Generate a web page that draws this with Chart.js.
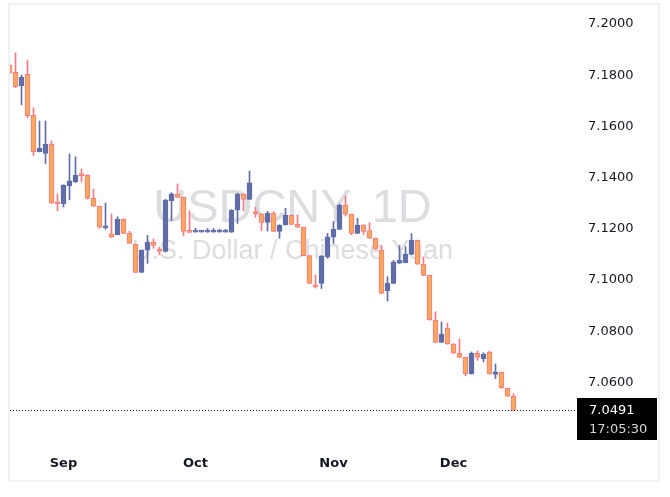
<!DOCTYPE html>
<html><head><meta charset="utf-8">
<script src="https://cdn.jsdelivr.net/npm/chart.js@4.4.1/dist/chart.umd.min.js"></script>
<style>
html,body{margin:0;padding:0;background:#fff;}
#wrap{position:absolute;left:0;top:0;width:670px;height:497px;}
#frame{position:absolute;left:8px;top:3px;width:652px;height:479px;border:2px solid #f0f1f3;box-sizing:border-box;}
canvas{position:absolute;left:0;top:0;}
</style></head><body>
<div id="wrap"><div id="frame"></div><canvas id="c" width="670" height="497"></canvas></div>
<script>
// Daily USDCNY candles, 2025-08-19 .. 2025-12-15 (trading days)
const opens = [7.1840,7.1811,7.1759,7.1803,7.1643,7.1501,7.1494,7.1531,7.1301,
  7.1298,7.1368,7.1384,7.1410,7.1410,7.1319,7.1288,7.1204,7.1180,7.1177,7.1238,7.1182,7.1139,7.1030,7.1117,7.1148,7.1121,7.1112,7.1310,7.1336,7.1323,7.1191,
  7.1187,7.1187,7.1187,7.1187,7.1187,7.1187,7.1187,7.1273,7.1336,7.1315,7.1262,7.1258,7.1225,7.1260,7.1190,7.1215,7.1253,7.1217,7.1206,7.1095,7.0975,7.0987,7.1091,
  7.1167,7.1198,7.1293,7.1257,7.1182,7.1215,7.1193,7.1163,7.1117,7.0958,7.0987,7.1066,7.1068,7.1100,7.1155,7.1061,7.1018,7.0843,
  7.0756,7.0811,7.0750,7.0714,7.0698,7.0633,7.0714,7.0693,7.0718,7.0631,7.0640,7.0577,7.0546];
const highs = [7.1845,7.1887,7.1801,7.1859,7.1673,7.1621,7.1621,7.1543,7.1336,
  7.1372,7.1492,7.1481,7.1434,7.1411,7.1355,7.1289,7.1301,7.1258,7.1247,7.1239,7.1190,7.1140,7.1118,7.1174,7.1161,7.1128,7.1315,7.1341,7.1375,7.1324,7.1270,
  7.1202,7.1193,7.1201,7.1201,7.1199,7.1198,7.1275,7.1339,7.1337,7.1426,7.1284,7.1259,7.1268,7.1267,7.1216,7.1280,7.1254,7.1254,7.1207,7.1096,7.1020,7.1095,7.1182,
  7.1228,7.1296,7.1328,7.1258,7.1241,7.1216,7.1224,7.1164,7.1135,7.1013,7.1076,7.1135,7.1130,7.1181,7.1156,7.1090,7.1019,7.0876,
  7.0836,7.0832,7.0752,7.0770,7.0699,7.0719,7.0723,7.0716,7.0722,7.0672,7.0641,7.0578,7.0556];
const lows = [7.1805,7.1751,7.1684,7.1634,7.1486,7.1500,7.1454,7.1299,7.1271,
  7.1285,7.1314,7.1380,7.1384,7.1316,7.1287,7.1202,7.1198,7.1166,7.1176,7.1181,7.1142,7.1029,7.1029,7.1065,7.1124,7.1098,7.1109,7.1232,7.1322,7.1174,7.1185,
  7.1187,7.1187,7.1187,7.1187,7.1187,7.1187,7.1186,7.1221,7.1271,7.1314,7.1245,7.1193,7.1191,7.1189,7.1163,7.1214,7.1216,7.1205,7.1094,7.0986,7.0968,7.0967,7.1085,
  7.1143,7.1197,7.1250,7.1177,7.1181,7.1178,7.1162,7.1119,7.0947,7.0918,7.0986,7.1063,7.1067,7.1099,7.1061,7.1017,7.0843,7.0755,
  7.0755,7.0749,7.0713,7.0697,7.0626,7.0632,7.0686,7.0681,7.0632,7.0615,7.0577,7.0545,7.0490];
const closes = [7.1810,7.1755,7.1792,7.1642,7.1501,7.1514,7.1531,7.1300,7.1298,
  7.1371,7.1387,7.1410,7.1408,7.1319,7.1288,7.1206,7.1207,7.1167,7.1238,7.1182,7.1143,7.1030,7.1117,7.1148,7.1135,7.1112,7.1312,7.1337,7.1323,7.1190,7.1186,
  7.1188,7.1188,7.1188,7.1188,7.1188,7.1188,7.1273,7.1336,7.1315,7.1380,7.1259,7.1225,7.1260,7.1190,7.1215,7.1254,7.1217,7.1206,7.1095,7.0987,7.0973,7.1094,7.1169,
  7.1199,7.1293,7.1257,7.1182,7.1215,7.1190,7.1163,7.1120,7.0948,7.0988,7.1071,7.1078,7.1101,7.1156,7.1062,7.1018,7.0844,7.0756,
  7.0789,7.0750,7.0714,7.0698,7.0633,7.0714,7.0698,7.0711,7.0633,7.0641,7.0578,7.0546,7.0491];
const monthIdx = [9, 31, 54, 74];
const monthLabels = ['Sep', 'Oct', 'Nov', 'Dec'];
const yTicks = [7.06, 7.08, 7.10, 7.12, 7.14, 7.16, 7.18, 7.20];
const lastTime = '17:05:30';
const title = 'USDCNY, 1D';
const subtitle = 'U.S. Dollar / Chinese Yuan';

const UP = '#5f6ea8';
const DOWN_FILL = '#f9a85c';
const DOWN_LINE = '#f57a84';

const isUp = opens.map((o, i) => closes[i] >= o);
const wickData = opens.map((o, i) => ({x: i, y: [lows[i], highs[i]]}));
const bodyData = opens.map((o, i) => ({x: i, y: [Math.min(o, closes[i]), Math.max(o, closes[i])]}));

const xMin = (10 - 9.5) / 6, xMax = (575 - 9.5) / 6;
const yMax = 7.2 + 19 / 2560, yMin = 7.2 - 416 / 2560;

const watermark = {
  id: 'watermark',
  beforeDatasetsDraw(chart) {
    const ctx = chart.ctx, a = chart.chartArea;
    const cx = (a.left + a.right) / 2;
    ctx.save();
    ctx.fillStyle = 'rgba(208,209,214,0.75)';
    ctx.textAlign = 'center';
    ctx.textBaseline = 'alphabetic';
    ctx.font = '47px "Liberation Sans", Arial, sans-serif';
    ctx.fillText(title, cx, 222);
    ctx.font = '27px "Liberation Sans", Arial, sans-serif';
    ctx.fillText(subtitle, cx, 259);
    ctx.restore();
  }
};

const priceLine = {
  id: 'priceLine',
  afterDraw(chart) {
    const ctx = chart.ctx, a = chart.chartArea, ys = chart.scales.y;
    const last = closes[closes.length - 1];
    const y = Math.round(ys.getPixelForValue(last));
    ctx.save();
    ctx.strokeStyle = '#131722';
    ctx.lineWidth = 1;
    ctx.setLineDash([1, 2]);
    ctx.beginPath();
    ctx.moveTo(a.left, y + 0.5);
    ctx.lineTo(577, y + 0.5);
    ctx.stroke();
    ctx.setLineDash([]);
    ctx.fillStyle = '#000';
    ctx.fillRect(577, y - 12, 80, 42);
    ctx.textAlign = 'left';
    ctx.textBaseline = 'middle';
    ctx.font = '13px "DejaVu Sans", sans-serif';
    ctx.fillStyle = '#ffffff';
    ctx.fillText(last.toFixed(4), 589, y + 0.5);
    ctx.fillStyle = '#d6d6d6';
    ctx.fillText(lastTime, 589, y + 20);
    ctx.restore();
  }
};

new Chart(document.getElementById('c'), {
  type: 'bar',
  data: {
    datasets: [
      {data: bodyData, backgroundColor: isUp.map(u => u ? UP : DOWN_FILL), borderColor: isUp.map(u => u ? UP : DOWN_LINE),
       borderWidth: 1, borderSkipped: false, barThickness: 5, minBarLength: 2, grouped: false, clip: 0, order: 1},
      {data: wickData, backgroundColor: isUp.map(u => u ? UP : DOWN_LINE), borderWidth: 0,
       barThickness: 1, minBarLength: 1, grouped: false, clip: 0, order: 2}
    ]
  },
  options: {
    responsive: false,
    animation: false,
    layout: {padding: {left: 10, top: 5, right: 0, bottom: 16}},
    plugins: {legend: {display: false}, tooltip: {enabled: false}},
    scales: {
      x: {
        type: 'linear', min: xMin, max: xMax, offset: false,
        grid: {display: false, drawTicks: false}, border: {display: false},
        afterBuildTicks: s => { s.ticks = monthIdx.map(v => ({value: v})); },
        afterFit: s => { s.height = 41; s.paddingLeft = 0; s.paddingRight = 0; },
        ticks: {padding: 16, autoSkip: false, maxRotation: 0, color: '#131722',
          font: {family: '"DejaVu Sans", sans-serif', size: 13, weight: 'bold'},
          callback: (v, i) => monthLabels[i]}
      },
      y: {
        position: 'right', min: yMin, max: yMax,
        grid: {display: false, drawTicks: false}, border: {display: false},
        afterBuildTicks: s => { s.ticks = yTicks.map(v => ({value: v})); },
        afterFit: s => { s.width = 95; s.paddingTop = 0; s.paddingBottom = 0; },
        ticks: {padding: 13, color: '#131722',
          font: {family: '"DejaVu Sans", sans-serif', size: 13},
          callback: v => Number(v).toFixed(4)}
      }
    }
  },
  plugins: [watermark, priceLine]
});
</script>
</body></html>
